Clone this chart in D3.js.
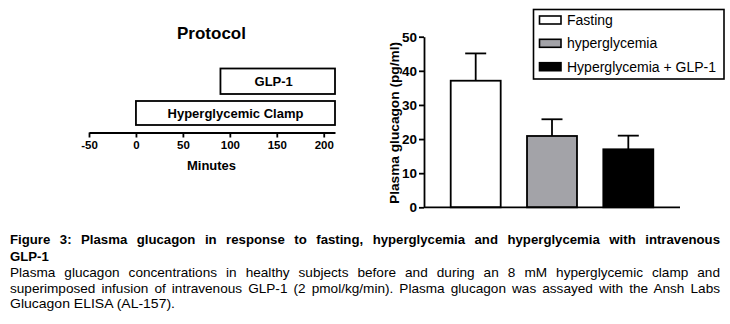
<!DOCTYPE html>
<html>
<head>
<meta charset="utf-8">
<script src="https://cdn.jsdelivr.net/npm/d3@7"></script>
<style>
  html, body { margin: 0; padding: 0; background: #fff; }
  svg { display: block; }
  text { font-family: "Liberation Sans", Arial, Helvetica, sans-serif; fill: #000; }
</style>
</head>
<body>
<svg id="fig" width="730" height="324"></svg>
<script>
// Protocol timeline (minutes)
const protocolTicks = [-50, 0, 50, 100, 150, 200];
const protocolDomain = [-50, 212];
const protocolLabels = ["GLP-1", "Hyperglycemic Clamp"];
const protocolStart = [90, 0];
const protocolEnd = [212, 212];

// Plasma glucagon (pg/ml), mean and SEM
const groups = ["Fasting", "hyperglycemia", "Hyperglycemia + GLP-1"];
const glucagonMean = [37.1, 20.9, 17.0];
const glucagonSem = [8.0, 4.9, 4.0];
const groupColors = ["#ffffff", "#a3a3a8", "#000000"];
const yTicks = [0, 10, 20, 30, 40, 50];

// Caption
const captionTitle = [
  "Figure 3: Plasma glucagon in response to fasting, hyperglycemia and hyperglycemia with intravenous",
  "GLP-1"
];
const captionBody = [
  "Plasma glucagon concentrations in healthy subjects before and during an 8 mM hyperglycemic clamp and",
  "superimposed infusion of intravenous GLP-1 (2 pmol/kg/min). Plasma glucagon was assayed with the Ansh Labs",
  "Glucagon ELISA (AL-157)."
];

const svg = d3.select("#fig");

// ---------- Protocol panel ----------
const px = d3.scaleLinear().domain(protocolDomain).range([89, 335]);
const axisY = 132.5;
const prot = svg.append("g");

prot.append("text")
  .attr("x", 211.5).attr("y", 38.5)
  .attr("text-anchor", "middle")
  .style("font-size", "17px").style("font-weight", "bold")
  .text("Protocol");

const rowTop = [68.5, 101];
const rowH = [25.5, 24];
protocolLabels.forEach((lab, i) => {
  prot.append("rect")
    .attr("x", px(protocolStart[i])).attr("y", rowTop[i])
    .attr("width", px(protocolEnd[i]) - px(protocolStart[i]))
    .attr("height", rowH[i])
    .attr("fill", "#fff").attr("stroke", "#000").attr("stroke-width", 1.8);
  prot.append("text")
    .attr("x", (px(protocolStart[i]) + px(protocolEnd[i])) / 2 - (i === 0 ? 4 : 0))
    .attr("y", rowTop[i] + rowH[i] / 2 + 4.6)
    .attr("text-anchor", "middle")
    .style("font-size", "13px").style("font-weight", "bold")
    .text(lab);
});

const pAxis = prot.append("g")
  .attr("transform", `translate(0,${axisY})`)
  .call(d3.axisBottom(px).tickValues(protocolTicks).tickFormat(d => String(d))
    .tickSize(5).tickSizeOuter(0).tickPadding(3));
pAxis.select(".domain").attr("stroke", "#000").attr("stroke-width", 1.8);
pAxis.selectAll(".tick line").attr("stroke", "#000").attr("stroke-width", 1.8);
pAxis.selectAll(".tick text")
  .style("font-size", "11.5px").style("font-weight", "bold")
  .style("font-family", "'Liberation Sans', Arial, sans-serif").attr("fill", "#000");

prot.append("text")
  .attr("x", 211.5).attr("y", 169.5)
  .attr("text-anchor", "middle")
  .style("font-size", "13px").style("font-weight", "bold")
  .text("Minutes");

// ---------- Bar panel ----------
const x = d3.scaleBand().domain(groups).range([424, 680]).paddingInner(0.345).paddingOuter(0.35);
const y = d3.scaleLinear().domain([0, 50]).range([207.3, 36.7]);
const bars = svg.append("g");

// error bars (upper only)
groups.forEach((g, i) => {
  const cx = x(g) + x.bandwidth() / 2;
  bars.append("line")
    .attr("x1", cx).attr("x2", cx)
    .attr("y1", y(glucagonMean[i])).attr("y2", y(glucagonMean[i] + glucagonSem[i]))
    .attr("stroke", "#000").attr("stroke-width", 1.8);
  bars.append("line")
    .attr("x1", cx - 10.5).attr("x2", cx + 10.5)
    .attr("y1", y(glucagonMean[i] + glucagonSem[i])).attr("y2", y(glucagonMean[i] + glucagonSem[i]))
    .attr("stroke", "#000").attr("stroke-width", 1.8);
});

bars.selectAll("rect.bar")
  .data(groups)
  .join("rect")
  .attr("class", "bar")
  .attr("x", d => x(d))
  .attr("y", (d, i) => y(glucagonMean[i]))
  .attr("width", x.bandwidth())
  .attr("height", (d, i) => y(0) - y(glucagonMean[i]))
  .attr("fill", (d, i) => groupColors[i])
  .attr("stroke", "#000").attr("stroke-width", 1.8);

const yAxis = bars.append("g")
  .attr("transform", "translate(424,0)")
  .call(d3.axisLeft(y).tickValues(yTicks).tickSize(5).tickSizeOuter(0).tickPadding(2));
yAxis.select(".domain").attr("stroke", "#000").attr("stroke-width", 1.8);
yAxis.selectAll(".tick line").attr("stroke", "#000").attr("stroke-width", 1.8);
yAxis.selectAll(".tick text")
  .style("font-size", "13.5px").style("font-weight", "bold")
  .style("font-family", "'Liberation Sans', Arial, sans-serif").attr("fill", "#000");

bars.append("line")
  .attr("x1", 424).attr("x2", 680)
  .attr("y1", y(0)).attr("y2", y(0))
  .attr("stroke", "#000").attr("stroke-width", 1.8);

bars.append("text")
  .attr("transform", `translate(398.5,${(y(0) + y(50)) / 2 + 1}) rotate(-90)`)
  .attr("text-anchor", "middle")
  .style("font-size", "13.7px").style("font-weight", "bold")
  .text("Plasma glucagon (pg/ml)");

// legend
const leg = svg.append("g");
leg.append("rect")
  .attr("x", 533.5).attr("y", 9.5).attr("width", 190.5).attr("height", 69.5)
  .attr("fill", "#fff").attr("stroke", "#000").attr("stroke-width", 1.6);
const legY = [20, 43.3, 66.7];
groups.forEach((g, i) => {
  leg.append("rect")
    .attr("x", 539.5).attr("y", legY[i] - 4).attr("width", 21.5).attr("height", 8)
    .attr("fill", groupColors[i]).attr("stroke", "#000").attr("stroke-width", 1.6);
  leg.append("text")
    .attr("x", 567).attr("y", legY[i] + 5)
    .style("font-size", "14px")
    .text(g);
});

// ---------- Caption ----------
function captionLine(str, yPos, bold, size, targetWidth, justify) {
  const t = svg.append("text")
    .attr("x", 10).attr("y", yPos)
    .style("font-size", size + "px")
    .style("font-weight", bold ? "bold" : "normal")
    .text(str);
  const natural = t.node().getComputedTextLength();
  const spaces = (str.match(/ /g) || []).length;
  if (justify && natural < targetWidth && spaces > 0) {
    t.attr("word-spacing", (targetWidth - natural) / spaces);
  } else if (Math.abs(natural - targetWidth) > 2) {
    t.attr("textLength", targetWidth).attr("lengthAdjust", "spacingAndGlyphs");
  }
}
captionLine(captionTitle[0], 244, true, 13.2, 710, true);
captionLine(captionTitle[1], 260.7, true, 13.2, 38, false);
captionLine(captionBody[0], 276.5, false, 13.6, 710, true);
captionLine(captionBody[1], 292.5, false, 13.6, 710, true);
captionLine(captionBody[2], 308.3, false, 13.6, 165, false);
</script>
</body>
</html>
